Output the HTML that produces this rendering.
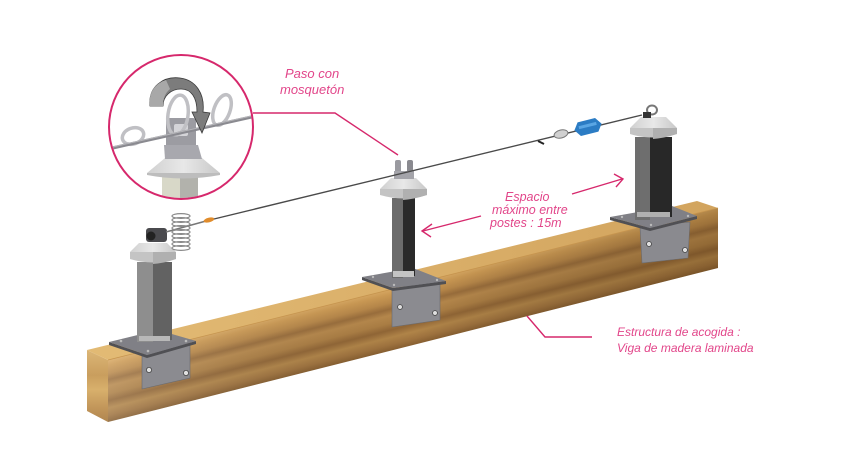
<!DOCTYPE html>
<html><head><meta charset="utf-8"><style>
html,body{margin:0;padding:0;background:#fff;}
svg{display:block;}
text{font-family:"Liberation Sans",sans-serif;font-style:italic;fill:#e2468a;}
</style></head><body>
<svg width="862" height="475" viewBox="0 0 862 475" xmlns="http://www.w3.org/2000/svg">
<defs>
<linearGradient id="wood" gradientUnits="userSpaceOnUse" x1="400" y1="287" x2="414.5" y2="345">
 <stop offset="0" stop-color="#d8a862"/>
 <stop offset="0.08" stop-color="#cc9a54"/>
 <stop offset="0.22" stop-color="#b8884a"/>
 <stop offset="0.32" stop-color="#9a6e3c"/>
 <stop offset="0.42" stop-color="#b6884c"/>
 <stop offset="0.55" stop-color="#ab7e44"/>
 <stop offset="0.66" stop-color="#916636"/>
 <stop offset="0.78" stop-color="#b08448"/>
 <stop offset="0.9" stop-color="#9e723e"/>
 <stop offset="1" stop-color="#865e30"/>
</linearGradient>
<linearGradient id="shade" gradientUnits="userSpaceOnUse" x1="108" y1="0" x2="718" y2="0">
 <stop offset="0" stop-color="#fff" stop-opacity="0.15"/>
 <stop offset="0.5" stop-color="#000" stop-opacity="0"/>
 <stop offset="1" stop-color="#3a2000" stop-opacity="0.22"/>
</linearGradient>
<linearGradient id="topw" gradientUnits="userSpaceOnUse" x1="108" y1="0" x2="718" y2="0">
 <stop offset="0" stop-color="#e2ba74"/>
 <stop offset="1" stop-color="#d2a45e"/>
</linearGradient>
<linearGradient id="endw" x1="0" y1="0" x2="0" y2="1">
 <stop offset="0" stop-color="#dcb676"/>
 <stop offset="0.35" stop-color="#c99e5e"/>
 <stop offset="0.55" stop-color="#d8b06c"/>
 <stop offset="0.8" stop-color="#c2965a"/>
 <stop offset="1" stop-color="#b08650"/>
</linearGradient>
<linearGradient id="capg" x1="0" y1="0" x2="1" y2="0">
 <stop offset="0" stop-color="#d0d0d0"/>
 <stop offset="0.5" stop-color="#e8e8e8"/>
 <stop offset="1" stop-color="#c8c8c8"/>
</linearGradient>
<clipPath id="mag"><circle cx="181" cy="127" r="71"/></clipPath>
</defs>

<!-- BEAM -->
<polygon points="87,350 108,360 108,422 87,411" fill="url(#endw)"/>
<polygon points="87,350 697,201 718,208 108,360" fill="url(#topw)"/>
<polygon points="108,360 718,208 718,268 108,422" fill="url(#wood)"/>
<polygon points="108,360 718,208 718,268 108,422" fill="url(#shade)"/>
<line x1="108" y1="360" x2="718" y2="208" stroke="#c6944e" stroke-width="0.8"/>

<!-- LEFT POST -->
<polygon points="142,354 190,343 190,378 142,389" fill="#8b8b90" stroke="#6a6a6e" stroke-width="0.6"/>
<circle cx="149" cy="370" r="2.6" fill="#e0e0e0" stroke="#444" stroke-width="0.8"/>
<circle cx="186" cy="373" r="2.6" fill="#e0e0e0" stroke="#444" stroke-width="0.8"/>
<polygon points="109,342 147,355 196,341 196,344 147,358 109,345" fill="#505054"/>
<polygon points="109,342 158,330 196,341 147,355" fill="#808086"/>
<circle cx="121" cy="341" r="1.3" fill="#bbb"/><circle cx="186" cy="341" r="1.3" fill="#bbb"/><circle cx="148" cy="351" r="1.3" fill="#bbb"/>
<rect x="137" y="262" width="16" height="80" fill="#8e8e8e"/>
<rect x="153" y="262" width="19" height="78" fill="#626262"/>
<rect x="139" y="336" width="31" height="5" fill="#b8b8b8"/>
<polygon points="139,243 167,243 176,252 130,252" fill="url(#capg)"/>
<path d="M130,252 L176,252 L176,259 Q153,266 130,259 Z" fill="#c4c4c4"/>
<path d="M153,252 L176,252 L176,259 Q165,263 153,264 Z" fill="#b0b0b0"/>
<!-- spring & device -->
<rect x="146" y="228" width="21" height="14" rx="3" fill="#4a4a4e"/>
<circle cx="151" cy="236" r="4.5" fill="#222"/>
<line x1="166" y1="232" x2="206" y2="221" stroke="#777" stroke-width="1.5"/>
<g fill="none" stroke="#8a8a8a" stroke-width="1.2">
<ellipse cx="181" cy="216" rx="9" ry="2.4"/><ellipse cx="181" cy="220" rx="9" ry="2.4"/>
<ellipse cx="181" cy="224" rx="9" ry="2.4"/><ellipse cx="181" cy="228" rx="9" ry="2.4"/>
<ellipse cx="181" cy="232" rx="9" ry="2.4"/><ellipse cx="181" cy="236" rx="9" ry="2.4"/>
<ellipse cx="181" cy="240" rx="9" ry="2.4"/><ellipse cx="181" cy="244" rx="9" ry="2.4"/>
<ellipse cx="181" cy="248" rx="9" ry="2.4"/>
</g>
<ellipse cx="209" cy="220" rx="5.5" ry="2.3" transform="rotate(-14 209 220)" fill="#e08c2c"/>

<!-- MIDDLE POST -->
<polygon points="392,289 440,280 440,320 392,327" fill="#8b8b90" stroke="#6a6a6e" stroke-width="0.6"/>
<circle cx="400" cy="307" r="2.4" fill="#e0e0e0" stroke="#444" stroke-width="0.8"/>
<circle cx="435" cy="313" r="2.4" fill="#e0e0e0" stroke="#444" stroke-width="0.8"/>
<polygon points="362,277 393,288 446,281 446,284 393,291 362,280" fill="#505054"/>
<polygon points="362,277 413,268 446,281 393,288" fill="#808086"/>
<circle cx="373" cy="277" r="1.2" fill="#bbb"/><circle cx="437" cy="280" r="1.2" fill="#bbb"/><circle cx="394" cy="285" r="1.2" fill="#bbb"/>
<rect x="392" y="198" width="11" height="80" fill="#6c6c6c"/>
<rect x="403" y="198" width="12" height="78" fill="#2a2a2a"/>
<rect x="393" y="271" width="21" height="6" fill="#c4c4c4"/>
<polygon points="391,178 416,178 427,189 380,189" fill="url(#capg)"/>
<path d="M380,189 L427,189 L427,195 Q403,202 380,195 Z" fill="#c4c4c4"/>
<path d="M403,189 L427,189 L427,195 Q415,199 403,200 Z" fill="#b0b0b0"/>
<rect x="395" y="160" width="6" height="18" rx="2" fill="#9a9aa0"/>
<rect x="407" y="160" width="6" height="18" rx="2" fill="#8a8a90"/>
<rect x="394" y="171" width="20" height="8" fill="#a4a4aa"/>

<!-- RIGHT POST -->
<polygon points="640,227 690,222 688,258 642,263" fill="#8a8a8f" stroke="#6a6a6e" stroke-width="0.6"/>
<circle cx="649" cy="244" r="2.5" fill="#e0e0e0" stroke="#444" stroke-width="0.8"/>
<circle cx="685" cy="250" r="2.5" fill="#e0e0e0" stroke="#444" stroke-width="0.8"/>
<polygon points="610,217 650,228 697,216 697,219 650,231 610,220" fill="#505054"/>
<polygon points="610,217 672,206 697,216 650,228" fill="#808086"/>
<circle cx="622" cy="217" r="1.2" fill="#bbb"/><circle cx="688" cy="216" r="1.2" fill="#bbb"/><circle cx="651" cy="225" r="1.2" fill="#bbb"/>
<rect x="635" y="137" width="15" height="83" fill="#6e6e6e"/>
<rect x="650" y="137" width="22" height="80" fill="#282828"/>
<rect x="637" y="212" width="33" height="5" fill="#b0b0b0"/>
<polygon points="641,117 666,117 677,128 630,128" fill="url(#capg)"/>
<path d="M630,128 L677,128 L677,134 Q653,141 630,134 Z" fill="#c4c4c4"/>
<path d="M653,128 L677,128 L677,134 Q665,138 653,139 Z" fill="#b0b0b0"/>
<ellipse cx="652" cy="110" rx="5" ry="4.5" fill="none" stroke="#777" stroke-width="2"/>
<rect x="643" y="112" width="8" height="6" fill="#333"/>

<!-- CABLE -->
<line x1="214" y1="219" x2="642" y2="115" stroke="#4a4a4a" stroke-width="1.4"/>
<line x1="538" y1="141" x2="544" y2="144" stroke="#222" stroke-width="2"/>
<ellipse cx="561" cy="134" rx="7" ry="4" transform="rotate(-14 561 134)" fill="#d0d0d0" stroke="#777" stroke-width="1"/>
<g transform="translate(588 127) rotate(-14)">
<polygon points="-14,0 -9,-7 9,-7 14,0 9,7 -9,7" fill="#2b7cc4"/>
<rect x="-9" y="-3" width="18" height="3" fill="#5aa6e4"/>
</g>

<!-- MAGNIFIER -->
<circle cx="181" cy="127" r="72" fill="#fff"/>
<g clip-path="url(#mag)">
<rect x="162" y="176" width="18" height="30" fill="#d8d8c8"/>
<rect x="180" y="176" width="18" height="30" fill="#b2b2ac"/>
<polygon points="165,158 202,158 220,173 147,173" fill="url(#capg)"/>
<path d="M147,173 L220,173 L220,175 Q183,182 147,175 Z" fill="#bdbdbd"/>
<rect x="166" y="118" width="30" height="30" rx="3" fill="#9c9ca2"/>
<polygon points="164,145 198,145 202,159 165,159" fill="#a8a8ae"/>
<rect x="174" y="124" width="14" height="12" rx="2" fill="#d4d4d8"/>
<ellipse cx="178" cy="115" rx="10" ry="20" transform="rotate(8 178 115)" fill="none" stroke="#c0c0c4" stroke-width="3.5"/>
<ellipse cx="133" cy="136" rx="11" ry="8" transform="rotate(-20 133 136)" fill="none" stroke="#c0c0c4" stroke-width="3.5"/>
<ellipse cx="222" cy="110" rx="8" ry="16" transform="rotate(20 222 110)" fill="none" stroke="#c0c0c4" stroke-width="3.5"/>
<line x1="108" y1="149" x2="256" y2="116" stroke="#8a8a90" stroke-width="3.2"/>
<line x1="108" y1="148" x2="256" y2="115" stroke="#b6b6ba" stroke-width="1"/>
<path d="M150,106 C148,86 164,76 180,78 C196,80 205,94 203,112 L210,113 L202,133 L192,112 L197,112 C197,97 191,89 181,89 C171,89 163,96 163,106 Z" fill="#7c7c7c" stroke="#3a3a3a" stroke-width="0.8"/>
<path d="M150,106 C148,92 156,83 166,80 L170,89 C165,93 163,99 163,106 Z" fill="#a8a8a8"/>
</g>
<circle cx="181" cy="127" r="72" fill="none" stroke="#d6286c" stroke-width="2"/>

<!-- LEADERS & ARROWS -->
<g fill="none" stroke="#d6286c" stroke-width="1.4">
<polyline points="253,113 335,113 398,155"/>
<polyline points="527,316 545,337 592,337"/>
<line x1="481" y1="216" x2="423" y2="231"/>
<polyline points="432,224 422,231 431,237"/>
<line x1="572" y1="194" x2="622" y2="179"/>
<polyline points="614,174 623,179 616,187"/>
</g>

<!-- TEXT -->
<text x="285" y="78" font-size="13">Paso con</text>
<text x="280" y="94" font-size="13">mosquetón</text>
<text x="505" y="201" font-size="12.5">Espacio</text>
<text x="492" y="214" font-size="12.5">máximo entre</text>
<text x="490" y="227" font-size="12.5">postes : 15m</text>
<text x="617" y="336" font-size="12">Estructura de acogida :</text>
<text x="617" y="352" font-size="12">Viga de madera laminada</text>
</svg>
</body></html>
